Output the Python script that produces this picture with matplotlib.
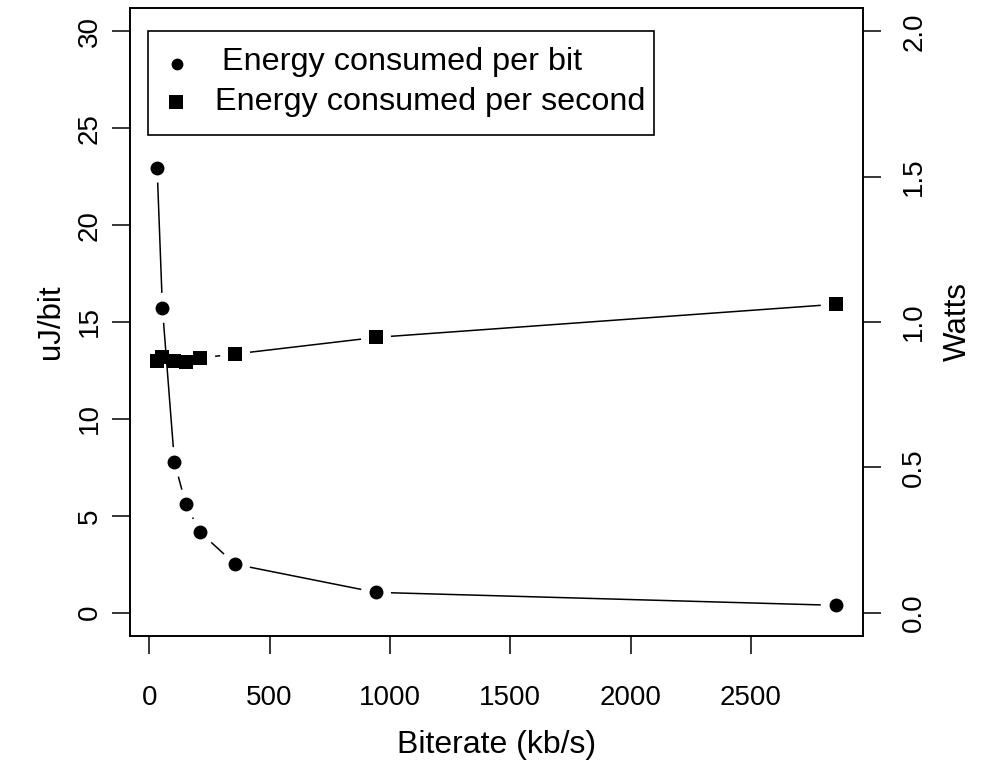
import numpy as np
import matplotlib
matplotlib.use('Agg')
import matplotlib.pyplot as plt

plt.rcParams['font.family'] = ['Liberation Sans', 'DejaVu Sans']

# bitrate in kb/s
bitrate = [33, 55, 105, 152, 212, 357, 942, 2852]
# energy per bit (uJ/bit), left axis
per_bit = [22.97, 15.73, 7.77, 5.6, 4.15, 2.5, 1.05, 0.38]
# energy per second (W), right axis
per_sec = [0.865, 0.879, 0.865, 0.864, 0.876, 0.89, 0.947, 1.061]

x_ticks = [0, 500, 1000, 1500, 2000, 2500]
left_ticks = [0, 5, 10, 15, 20, 25, 30]
right_ticks = [0.0, 0.5, 1.0, 1.5, 2.0]

fig = plt.figure(figsize=(9.99, 7.62), dpi=100)
ax = fig.add_axes([0.1301, 0.1654, 0.7337, 0.8241])
ax2 = ax.twinx()
ax2.set_position(ax.get_position())

# R-style 4% padding around the data / axis range
xr = max(bitrate) - min(bitrate)
ax.set_xlim(min(bitrate) - 0.04 * xr, max(bitrate) + 0.04 * xr)
ax.set_ylim(-1.2, 31.2)
ax2.set_ylim(-0.08, 2.08)


def gapped_line(a, xs, ys, gap=15):
    # type="b": segments between points, stopping short of each marker
    pts = a.transData.transform(np.column_stack([xs, ys]))
    inv = a.transData.inverted()
    for p, q in zip(pts[:-1], pts[1:]):
        d = q - p
        L = np.hypot(*d)
        if L <= 2 * gap:
            continue
        u = d / L
        seg = inv.transform(np.array([p + u * gap, q - u * gap]))
        a.plot(seg[:, 0], seg[:, 1], color='black', lw=1.1, solid_capstyle='butt')


gapped_line(ax, bitrate, per_bit)
ax.plot(bitrate, per_bit, 'o', color='black', ms=10, mew=0)
gapped_line(ax2, bitrate, per_sec)
ax2.plot(bitrate, per_sec, 's', color='black', ms=10.5, mew=0)

ax.set_xticks(x_ticks)
ax.set_yticks(left_ticks)
ax2.set_yticks(right_ticks)
ax2.set_yticklabels(['%.1f' % t for t in right_ticks])

for a in (ax, ax2):
    for s in a.spines.values():
        s.set_linewidth(1.2)
ax.tick_params(axis='x', length=13, width=1.1, pad=22, labelsize=20)
ax.tick_params(axis='y', length=13, width=1.1, pad=6.5, labelsize=20)
ax2.tick_params(axis='y', length=13, width=1.1, pad=14.5, labelsize=20)
for lab in ax.get_yticklabels():
    lab.set_rotation(90)
    lab.set_va('center')
for lab in ax2.get_yticklabels():
    lab.set_rotation(90)
    lab.set_va('center')

ax.set_xlabel('Biterate (kb/s)', fontsize=23, labelpad=14)
ax.set_ylabel('uJ/bit', fontsize=22.5, labelpad=8)
ax2.set_ylabel('Watts', fontsize=22.5, labelpad=11, rotation=90)

# legend box drawn by hand, R style
ax.add_patch(plt.Rectangle((0.024, 0.797), 0.691, 0.166, transform=ax.transAxes,
                           fill=False, lw=1.2, color='black', zorder=5))
ax.plot([0.0641], [0.911], 'o', color='black', ms=8.5, mew=0, transform=ax.transAxes, clip_on=False)
ax.plot([0.0628], [0.851], 's', color='black', ms=9.5, mew=0, transform=ax.transAxes, clip_on=False)
ax.text(0.125, 0.914, 'Energy consumed per bit', transform=ax.transAxes,
        fontsize=23.3, va='center', ha='left')
ax.text(0.116, 0.850, 'Energy consumed per second', transform=ax.transAxes,
        fontsize=23.3, va='center', ha='left')

fig.savefig('out.png', dpi=100)
